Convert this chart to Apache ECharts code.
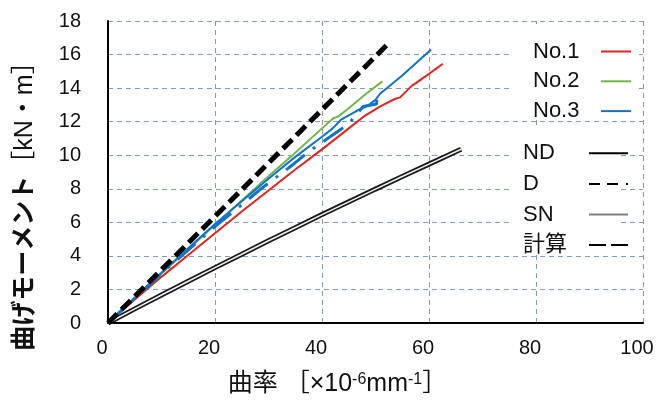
<!DOCTYPE html>
<html><head><meta charset="utf-8">
<script src="https://cdn.jsdelivr.net/npm/echarts@6/dist/echarts.min.js"></script>
<style>html,body{margin:0;padding:0;background:#fff}#c{width:663px;height:411px}</style>
</head><body><div id="c"></div>
<script>
// ---- data (curvature ×10^-6 mm^-1, moment kN·m) ----
const no1 = [[0,0],[5,1.4],[10,2.75],[15,4.05],[20,5.35],[25,6.65],[30,7.9],[35,9.15],[40,10.35],[45,11.6],[48,12.35],[50.8,12.9],[53.6,13.35],[54.6,13.45],[56.8,14.15],[57.4,14.27],[60,14.85],[62.6,15.45]];
const no2 = [[0,0],[5,1.5],[10,2.95],[15,4.4],[20,5.85],[25,7.3],[30,8.75],[35,10.15],[40,11.6],[42.1,12.2],[43,12.3],[45,12.8],[48,13.6],[51.3,14.4]];
const no3 = [[0,0],[5,1.5],[10,3.0],[15,4.45],[20,5.9],[25,7.25],[30,8.6],[35,9.9],[40,11.1],[42,11.6],[43.5,12.1],[46.5,12.65],[48.5,12.95],[50,13.3],[50.8,13.65],[55,14.75],[60.4,16.3]];
const no3D = [[0,0],[10,2.95],[20,5.75],[25,7.05],[29,8.1],[34,9.3],[37.5,10.2],[41.5,11.1],[44.9,11.85],[47.7,12.9],[50.2,13.05],[50.3,13.45]];
const sn = [[0,0],[5,0.84],[10,1.67],[15,2.49],[20,3.3],[25,4.1],[30,4.9],[35,5.68],[40,6.46],[45,7.22],[50,7.98],[55,8.73],[60,9.47],[66,10.35]];
const calc = [[0,0],[52.7,16.75]];
const specimenNames = ['No.1','No.2','No.3'];
const typeNames = ['ND','D','SN','計算'];
const xRange = {min:0, max:100, interval:20};
const yRange = {min:0, max:18, interval:2};

const FONT = '"Liberation Sans", "Noto Sans CJK JP", sans-serif';
const RED = '#e0241f', GREEN = '#73b54a', BLUE = '#0f73c6';
const gridColor = '#8a9bb8';

const chart = echarts.init(document.getElementById('c'));
const lineSeries = (name, data, color, width, type, z) => ({
  name, type:'line', data, symbol:'none', z: z || 2, silent:true,
  itemStyle:{color}, lineStyle:{color, width, type: type || 'solid', cap:'butt'}
});
const hiddenSymbol = {color:'rgba(0,0,0,0)', borderColor:'rgba(0,0,0,0)', borderWidth:0, opacity:0};

chart.setOption({
  animation:false,
  grid:{left:108, right:20, top:21, bottom:88},
  graphic:[
    {type:'rect', z:1, shape:{x:512, y:24, width:126, height:93}, style:{fill:'#fff'}},
    {type:'rect', z:1, shape:{x:512, y:128, width:108, height:124}, style:{fill:'#fff'}}
  ],
  xAxis:{
    type:'value', min:xRange.min, max:xRange.max, interval:xRange.interval,
    axisLine:{show:true, onZero:false, lineStyle:{color:'#000', width:2}},
    axisTick:{show:false},
    splitLine:{show:true, lineStyle:{color:gridColor, type:[5,4], width:1}},
    axisLabel:{fontSize:20, color:'#111', fontFamily:FONT, margin:15, padding:[0,12,0,0]},
    name:'曲率 ［×10{sup|-6}mm{sup|-1}］', nameLocation:'middle', nameGap:49,
    nameTextStyle:{fontSize:25, color:'#111', fontFamily:FONT, padding:[0,76,0,0],
      rich:{sup:{fontSize:16, fontFamily:FONT, color:'#111', verticalAlign:'top', lineHeight:25}}}
  },
  yAxis:{
    type:'value', min:yRange.min, max:yRange.max, interval:yRange.interval,
    axisLine:{show:true, onZero:false, lineStyle:{color:'#000', width:2}},
    axisTick:{show:false},
    splitLine:{show:true, lineStyle:{color:gridColor, type:[5,4], width:1}},
    axisLabel:{fontSize:20, color:'#111', fontFamily:FONT, margin:27},
    name:'{b|曲げモーメント}［kN・m］', nameLocation:'middle', nameGap:70,
    nameTextStyle:{fontSize:25, color:'#111', fontFamily:FONT, padding:[0,56,0,0],
      rich:{b:{fontSize:25, fontWeight:'bold', color:'#111', fontFamily:FONT}}}
  },
  legend:[
    {data:specimenNames, orient:'vertical', left:533, top:40.5, align:'right', padding:0,
     itemWidth:30, itemHeight:20, itemGap:7.8, selectedMode:false, itemStyle:hiddenSymbol,
     formatter: n => '{t|' + n + '}',
     textStyle:{rich:{t:{width:63, align:'left', fontSize:22, lineHeight:20, fontFamily:FONT, color:'#111'}}}},
    {data:[{name:'ND'},{name:'D', lineStyle:{type:[11,7,11,8]}},{name:'SN'},{name:'計算', lineStyle:{type:[17,5]}}],
     orient:'vertical', left:523, top:142.3, align:'right', padding:0,
     itemWidth:39, itemHeight:20, itemGap:8.6, selectedMode:false, itemStyle:hiddenSymbol,
     formatter: n => '{t|' + n + '}',
     textStyle:{rich:{t:{width:61, align:'left', fontSize:22, lineHeight:20, fontFamily:FONT, color:'#111'}}}}
  ],
  series:[
    lineSeries('SN-outer', sn, '#1a1a1a', 5, 'solid', 2),
    lineSeries('SN-inner', sn, '#f0f0f0', 1.6, 'solid', 2),
    lineSeries('No.1', no1, RED, 2, 'solid', 3),
    lineSeries('No.2', no2, GREEN, 2, 'solid', 3),
    lineSeries('No.3-D', no3D, BLUE, 3, [24,10,3,10], 3),
    lineSeries('No.3', no3, BLUE, 2, 'solid', 3),
    lineSeries('計算', calc, '#000', 5, [13,6], 5),
    lineSeries('ND', [], '#000', 2.5, 'solid'),
    lineSeries('D', [], '#000', 3, 'dashed'),
    lineSeries('SN', [], '#808080', 2, 'solid')
  ]
});
</script></body></html>
